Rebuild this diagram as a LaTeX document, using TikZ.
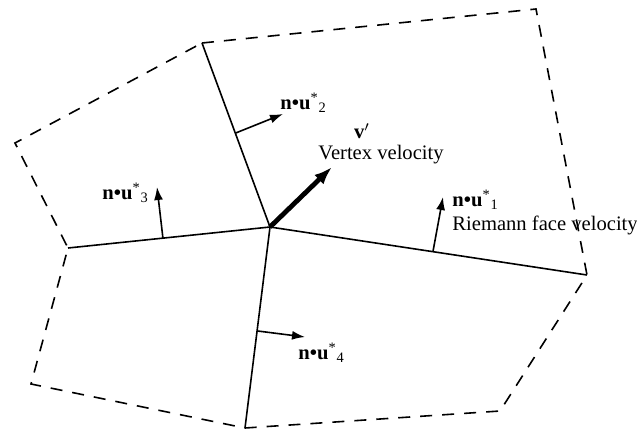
\documentclass[tikz,border=0pt]{standalone}
\usepackage{fontspec}
\setmainfont{Liberation Serif}
\usetikzlibrary{arrows.meta,calc}
\tikzset{
  face/.style={line width=0.8pt},
  outer/.style={line width=0.8pt, dash pattern=on 6pt off 5pt},
  normal/.style={line width=0.8pt, -{Latex[length=6.5pt,width=4.5pt]}},
  vertexarrow/.style={line width=2.4pt, -{Latex[length=9pt,width=6.5pt]}},
  lbl/.style={inner sep=0pt, font=\fontsize{10.3}{12}\selectfont}
}
\newcommand{\facevel}[1]{\textbf{n\textbullet u}\textsuperscript{*}\textsubscript{#1}}
\begin{document}
\begin{tikzpicture}[x=0.5pt,y=-0.5pt]
\useasboundingbox (0,0) rectangle (637,429);
% mesh vertices
\coordinate (c) at (270,227);
\coordinate (t) at (202,43);
\coordinate (l) at (68,248);
\coordinate (r) at (587,275);
\coordinate (b) at (245,428);
\coordinate (tr) at (536,9);
\coordinate (br) at (500,411);
\coordinate (bl) at (31,384);
\coordinate (tl) at (15,143);
% outer cell boundary
\draw[outer] (t) -- (tr) -- (r) -- (br) -- (b) -- (bl) -- (l) -- (tl) -- cycle;
% faces meeting at the vertex
\draw[face] (c) -- (t);
\draw[face] (c) -- (l);
\draw[face] (c) -- (r);
\draw[face] (c) -- (b);
% face normal velocities
\coordinate (f1) at ($(c)!0.514!(r)$);
\coordinate (f2) at ($(c)!0.51!(t)$);
\coordinate (f3) at ($(c)!0.53!(l)$);
\coordinate (f4) at ($(c)!0.517!(b)$);
\coordinate (n1) at (443,197);
\coordinate (n2) at (283,114);
\coordinate (n3) at (157,187);
\coordinate (n4) at (305,337);
\draw[normal] (f1) -- (n1);
\draw[normal] (f2) -- (n2);
\draw[normal] (f3) -- (n3);
\draw[normal] (f4) -- (n4);
% vertex velocity
\coordinate (v) at (332,167);
\draw[vertexarrow] (c) -- (v);
% labels
\node[lbl, anchor=west] (u1) at (452,200) {\facevel{1}};
\node[lbl, anchor=west] (rfv) at (452,225) {Riemann face velocity};
\node[lbl, anchor=west] (u2) at (280,103) {\facevel{2}};
\node[lbl, anchor=west] (u3) at (102,193) {\facevel{3}};
\node[lbl, anchor=west] (u4) at (298,353) {\facevel{4}};
\node[lbl] (vp) at (362,131) {\textbf{v}$'$};
\node[lbl, anchor=west] (vv) at (318,155) {Vertex velocity};
\end{tikzpicture}
\end{document}
